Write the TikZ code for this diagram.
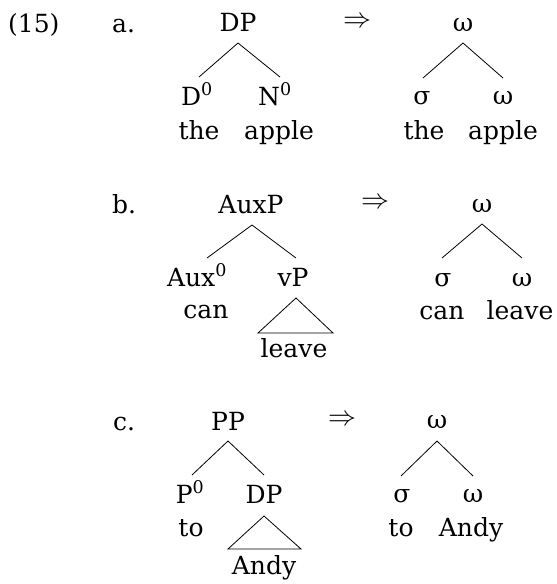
\documentclass[tikz,border=0pt]{standalone}
\usepackage{fontspec}
\usepackage{graphicx}
\setmainfont{DejaVu Serif}
\begin{document}
\begin{tikzpicture}[x=1pt,y=-1pt,
  lab/.style={font=\fontsize{25}{30}\selectfont, inner sep=0pt, anchor=base},
  num/.style={lab, anchor=base west},
  arr/.style={inner sep=0pt, anchor=center},
  br/.style={line width=0.8pt}]
\useasboundingbox (0,0) rectangle (557,584);
% labels
\node[num] (n15) at (8,32) {(15)};
\node[num] (la) at (112,32) {a.};
\node[num] (lb) at (112,213) {b.};
\node[num] (lc) at (113,430) {c.};
% ---- tree a, syntax
\node[lab] (DPa) at (238,31) {DP};
\node[lab] (D0a) at (197,105) {D\textsuperscript{0}};
\node[lab] (N0a) at (275,105) {N\textsuperscript{0}};
\node[lab] (thea) at (199,139) {the};
\node[lab] (applea) at (279,139) {apple};
\draw[br] ([yshift=-12pt]DPa.base) -- ([xshift=2pt,yshift=28pt]D0a.base);
\draw[br] ([yshift=-12pt]DPa.base) -- ([xshift=5pt,yshift=28pt]N0a.base);
\node[arr] (ara) at (357,22) {\scalebox{2.8}{$\Rightarrow$}};
% ---- tree a, prosody
\node[lab] (wa) at (463,31) {ω};
\node[lab] (sa) at (422,104) {σ};
\node[lab] (wa2) at (503,104) {ω};
\node[lab] (thea2) at (424,139) {the};
\node[lab] (applea2) at (503,139) {apple};
\draw[br] ([yshift=-12pt]wa.base) -- ([xshift=1pt,yshift=26pt]sa.base);
\draw[br] ([yshift=-12pt]wa.base) -- ([yshift=26pt]wa2.base);
% ---- tree b, syntax
\node[lab] (AuxP) at (251,213) {AuxP};
\node[lab] (Aux0) at (197,286) {Aux\textsuperscript{0}};
\node[lab] (vP) at (293,286) {vP};
\node[lab] (canb) at (206,318) {can};
\node[lab] (leaveb) at (294,357) {leave};
\draw[br] ([xshift=1pt,yshift=-12pt]AuxP.base) -- ([xshift=10pt,yshift=28pt]Aux0.base);
\draw[br] ([xshift=1pt,yshift=-12pt]AuxP.base) -- ([xshift=3pt,yshift=28pt]vP.base);
\draw[br] ([xshift=3pt,yshift=-12pt]vP.base) -- ([xshift=-35pt,yshift=-47pt]vP.base) -- ([xshift=40pt,yshift=-47pt]vP.base) -- cycle;
\node[arr] (arb) at (375,203) {\scalebox{2.8}{$\Rightarrow$}};
% ---- tree b, prosody
\node[lab] (wb) at (482,212) {ω};
\node[lab] (sb) at (443,286) {σ};
\node[lab] (wb2) at (522,286) {ω};
\node[lab] (canb2) at (442,319) {can};
\node[lab] (leaveb2) at (520,319) {leave};
\draw[br] ([yshift=-12pt]wb.base) -- ([xshift=-1pt,yshift=28pt]sb.base);
\draw[br] ([yshift=-12pt]wb.base) -- ([yshift=28pt]wb2.base);
% ---- tree c, syntax
\node[lab] (PP) at (228,430) {PP};
\node[lab] (P0) at (190,503) {P\textsuperscript{0}};
\node[lab] (DPc) at (264,503) {DP};
\node[lab] (toc) at (191,536) {to};
\node[lab] (Andyc) at (264,574) {Andy};
\draw[br] ([yshift=-11pt]PP.base) -- ([xshift=2pt,yshift=28pt]P0.base);
\draw[br] ([yshift=-11pt]PP.base) -- ([yshift=28pt]DPc.base);
\draw[br] ([yshift=-13pt]DPc.base) -- ([xshift=-36pt,yshift=-46pt]DPc.base) -- ([xshift=37pt,yshift=-46pt]DPc.base) -- cycle;
\node[arr] (arc) at (342,420) {\scalebox{2.8}{$\Rightarrow$}};
% ---- tree c, prosody
\node[lab] (wc) at (437,428) {ω};
\node[lab] (sc) at (402,502) {σ};
\node[lab] (wc2) at (473,502) {ω};
\node[lab] (toc2) at (401,536) {to};
\node[lab] (Andyc2) at (471,536) {Andy};
\draw[br] ([yshift=-13pt]wc.base) -- ([xshift=-1pt,yshift=26pt]sc.base);
\draw[br] ([yshift=-13pt]wc.base) -- ([yshift=26pt]wc2.base);
\end{tikzpicture}
\end{document}
